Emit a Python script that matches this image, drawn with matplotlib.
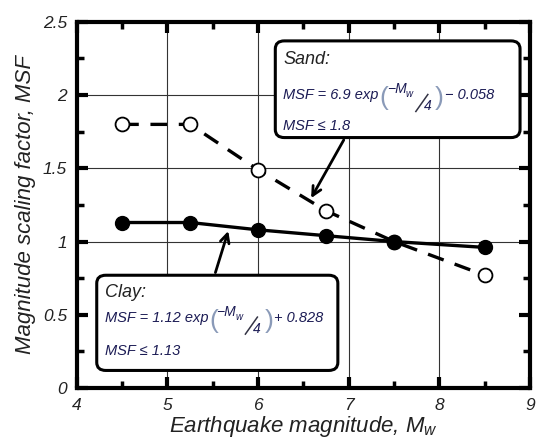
import matplotlib
matplotlib.use("Agg")
import matplotlib.pyplot as plt
from matplotlib.patches import FancyBboxPatch
from matplotlib.lines import Line2D
from matplotlib.ticker import MultipleLocator
from matplotlib.transforms import IdentityTransform

# =====================
# 데이터
# =====================
mw_points = [4.5, 5.25, 6.0, 6.75, 7.5, 8.5]
sand_msf = [1.80, 1.80, 1.49, 1.21, 1.00, 0.77]
clay_msf = [1.13, 1.13, 1.08, 1.04, 1.00, 0.96]

x_ticks = [4, 5, 6, 7, 8, 9]
y_ticks = [0, 0.5, 1, 1.5, 2, 2.5]
y_tick_labels = ["0", "0.5", "1", "1.5", "2", "2.5"]

# =====================
# 폰트 설정
# =====================
plt.rcParams['font.family'] = ['Liberation Sans', 'DejaVu Sans']
plt.rcParams['font.style'] = 'italic'
plt.rcParams['mathtext.fontset'] = 'custom'
plt.rcParams['mathtext.it'] = 'Liberation Sans:italic'
plt.rcParams['mathtext.rm'] = 'Liberation Sans:italic'

fig = plt.figure(figsize=(5.37, 4.46), dpi=100)
ax = fig.add_axes([0.143, 0.130, 0.844, 0.821])

ax.plot(mw_points, sand_msf, color='black', lw=2.4, ls=(0, (5, 3.5)),
        marker='o', ms=10, mfc='white', mec='black', mew=1.3, zorder=3)
ax.plot(mw_points, clay_msf, color='black', lw=2.4,
        marker='o', ms=10, mfc='black', mec='black', zorder=3)

ax.set_xlim(4, 9)
ax.set_ylim(0, 2.5)
ax.set_xticks(x_ticks)
ax.set_yticks(y_ticks)
ax.set_yticklabels(y_tick_labels)
ax.xaxis.set_minor_locator(MultipleLocator(0.5))
ax.yaxis.set_minor_locator(MultipleLocator(0.25))

for x in [5, 6, 7, 8]:
    ax.axvline(x, color='#333333', lw=0.8, zorder=0)
for y in [1, 1.5, 2]:
    ax.axhline(y, color='#333333', lw=0.8, zorder=0)

for s in ax.spines.values():
    s.set_linewidth(3)
ax.tick_params(which='both', direction='in', top=True, right=True,
               labelsize=12.5, pad=7, labelcolor='#222222')
ax.tick_params(which='major', length=8, width=3)
ax.tick_params(which='minor', length=5, width=2.5)
for lab in ax.get_xticklabels() + ax.get_yticklabels():
    lab.set_fontstyle('italic')

ax.set_xlabel(r"Earthquake magnitude, $M_w$", fontsize=16, labelpad=1,
              color='#222222')
ax.set_ylabel("Magnitude scaling factor, MSF", fontsize=16, labelpad=5,
              color='#222222')

# =====================
# 주석 박스
# =====================
navy = '#1c1c55'
paren = '#8a9ab8'


def add_box(x0, y0, x1, y1):
    box = FancyBboxPatch((x0, y0), x1 - x0, y1 - y0,
                         boxstyle="round,pad=0,rounding_size=0.1",
                         transform=ax.transData, fc='white', ec='black',
                         lw=2.2, zorder=5, mutation_aspect=0.55)
    ax.add_patch(box)


renderer = fig.canvas.get_renderer()


def put(px, py, s, size, color=navy, style='italic'):
    t = ax.text(px, py, s, fontsize=size, color=color, va='baseline',
                fontstyle=style, transform=IdentityTransform(), zorder=6)
    return t.get_window_extent(renderer).x1


def formula(xd, yd, head, tail):
    # 분수 형태의 식을 조각으로 그림 (display 픽셀, y는 위로)
    px, py = ax.transData.transform((xd, yd))
    x0 = put(px, py, head, 10.5) + 1
    put(x0, py - 6, "(", 19, color=paren, style='normal')
    xm = put(x0 + 7, py + 6, "\u2212M", 10)
    put(xm - 1, py + 2, "w", 7)
    ax.add_artist(Line2D([x0 + 36, x0 + 48], [py - 12, py + 5], lw=1.1,
                         color='#333344', transform=IdentityTransform(),
                         zorder=6))
    put(x0 + 44, py - 11, "4", 10)
    put(x0 + 55, py - 6, ")", 19, color=paren, style='normal')
    put(x0 + 65, py, tail, 10.5)


add_box(6.19, 1.71, 8.89, 2.37)
ax.text(6.28, 2.24, "Sand:", fontsize=13, va='center', zorder=6,
        color='#222222')
formula(6.28, 1.97, "MSF = 6.9 exp", "\u2212 0.058")
ax.text(6.28, 1.79, "MSF \u2264 1.8", fontsize=10.5, va='center',
        zorder=6, color=navy)

add_box(4.22, 0.12, 6.88, 0.77)
ax.text(4.31, 0.65, "Clay:", fontsize=13, va='center', zorder=6,
        color='#222222')
formula(4.31, 0.45, "MSF = 1.12 exp", "+ 0.828")
ax.text(4.31, 0.25, "MSF \u2264 1.13", fontsize=10.5, va='center',
        zorder=6, color=navy)

ax.annotate("", xy=(6.57, 1.28), xytext=(6.96, 1.71),
            arrowprops=dict(arrowstyle='->', lw=2, color='black',
                            mutation_scale=16), zorder=6)
ax.annotate("", xy=(5.68, 1.09), xytext=(5.52, 0.77),
            arrowprops=dict(arrowstyle='->', lw=2, color='black',
                            mutation_scale=16), zorder=6)

fig.savefig("out.png", dpi=100)
